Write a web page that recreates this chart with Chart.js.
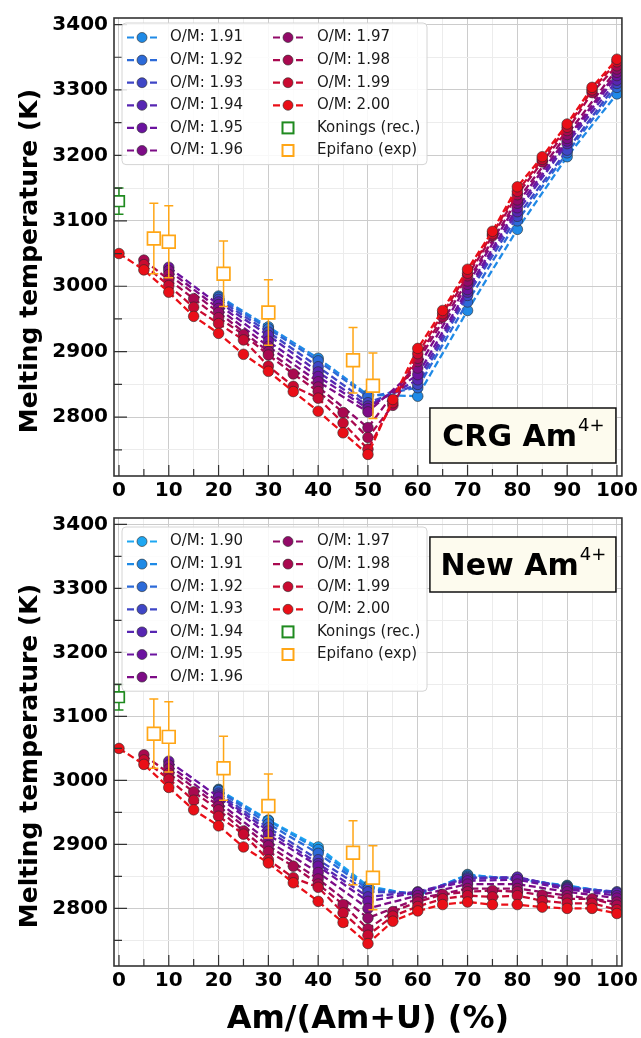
<!DOCTYPE html>
<html lang="en">
<head>
<meta charset="UTF-8">
<title>Melting temperature vs Am/(Am+U)</title>
<script src="https://cdn.jsdelivr.net/npm/chart.js@4.4.0/dist/chart.umd.min.js"></script>
<style>
    html, body { margin: 0; padding: 0; background: #fff; }
    #wrap { position: relative; width: 641px; height: 1038px; }
    .panel { position: absolute; left: 0; width: 641px; }
    #top { top: 0; height: 500px; }
    #bottom { top: 500px; height: 538px; }
</style>
</head>
<body>
<div id="wrap">
    <div class="panel" id="top"><canvas id="crgChart"></canvas></div>
    <div class="panel" id="bottom"><canvas id="newChart"></canvas></div>
</div>
<script>
// Am/(Am+U) in %, one slot every 5 % (null = no point there)
const _ = null;
const amPct = [0, 5, 10, 15, 20, 25, 30, 35, 40, 45, 50, 55, 60, 65, 70, 75, 80, 85, 90, 95, 100];
const xLabels = [0, 10, 20, 30, 40, 50, 60, 70, 80, 90, 100];
const yTickVals = [2750, 2800, 2850, 2900, 2950, 3000, 3050, 3100, 3150, 3200, 3250, 3300, 3350, 3400];
const yLabels = [2800, 2900, 3000, 3100, 3200, 3300, 3400];

// top panel: CRG Am4+
const omTop = ['1.91', '1.92', '1.93', '1.94', '1.95', '1.96', '1.97', '1.98', '1.99', '2.00'];
const crg191 = [_, _, _, _, 2985, _, 2938, _, 2890, _, 2834, _, 2832, _, 2963, _, 3087, _, 3198, _, 3294];
const crg192 = [_, _, _, _, 2983, _, 2935, _, 2886, _, 2831, _, 2845, _, 2976, _, 3100, _, 3204, _, 3304];
const crg193 = [_, _, _, _, 2980, _, 2930, _, 2877, _, 2822, _, 2850, _, 2986, _, 3107, _, 3208, _, 3310];
const crg194 = [_, _, _, _, 2976, _, 2925, _, 2869, _, 2817, _, 2857, _, 2991, _, 3114, _, 3218, _, 3315];
const crg195 = [_, _, 3029, _, 2972, _, 2916, _, 2862, _, 2813, _, 2865, _, 2995, _, 3120, _, 3222, _, 3322];
const crg196 = [_, _, 3024, _, 2966, _, 2908, _, 2854, _, 2808, _, 2875, _, 3003, _, 3127, _, 3226, _, 3327];
const crg197 = [_, _, 3018, _, 2960, _, 2900, _, 2846, _, 2784, _, 2885, _, 3008, _, 3132, _, 3232, _, 3332];
const crg198 = [_, 3040, 3010, 2981, 2952, 2926, 2895, 2866, 2839, 2807, 2769, 2818, 2890, 2953, 3016, 3077, 3140, 3190, 3238, 3296, 3337];
const crg199 = [_, 3033, 3001, 2968, 2943, 2918, 2878, 2847, 2829, 2791, 2751, 2822, 2897, 2958, 3020, 3080, 3145, 3194, 3243, 3300, 3343];
const crg200 = [3050, 3025, 2991, 2954, 2928, 2896, 2870, 2839, 2809, 2776, 2743, 2827, 2905, 2963, 3026, 3084, 3152, 3198, 3248, 3304, 3347];

// bottom panel: New Am4+
const omBottom = ['1.90', '1.91', '1.92', '1.93', '1.94', '1.95', '1.96', '1.97', '1.98', '1.99', '2.00'];
const new190 = [_, _, _, _, 2986, _, 2938, _, 2896, _, 2835, _, 2820, _, 2853, _, 2845, _, 2836, _, 2823];
const new191 = [_, _, _, _, 2985, _, 2937, _, 2892, _, 2833, _, 2821, _, 2852, _, 2846, _, 2835, _, 2824];
const new192 = [_, _, _, _, 2984, _, 2932, _, 2886, _, 2830, _, 2822, _, 2850, _, 2847, _, 2834, _, 2825];
const new193 = [_, _, _, _, 2980, _, 2926, _, 2876, _, 2826, _, 2824, _, 2848, _, 2848, _, 2833, _, 2826];
const new194 = [_, _, _, _, 2977, _, 2921, _, 2870, _, 2818, _, 2826, _, 2846, _, 2849, _, 2832, _, 2824];
const new195 = [_, _, 3030, _, 2974, _, 2915, _, 2866, _, 2811, _, 2825, _, 2843, _, 2845, _, 2830, _, 2820];
const new196 = [_, _, 3024, _, 2966, _, 2905, _, 2856, _, 2800, _, 2820, _, 2838, _, 2838, _, 2826, _, 2816];
const new197 = [_, _, 3018, _, 2960, _, 2898, _, 2846, _, 2785, _, 2815, _, 2831, _, 2831, _, 2820, _, 2810];
const new198 = [_, 3040, 3011, 2982, 2954, 2921, 2889, 2866, 2838, 2806, 2768, 2795, 2810, 2822, 2826, 2828, 2826, 2821, 2815, 2815, 2805];
const new199 = [_, 3032, 3002, 2969, 2944, 2916, 2876, 2848, 2833, 2793, 2758, 2788, 2803, 2815, 2820, 2818, 2820, 2812, 2808, 2808, 2798];
const new200 = [3050, 3025, 2989, 2954, 2929, 2896, 2871, 2840, 2811, 2778, 2745, 2780, 2796, 2806, 2810, 2806, 2806, 2802, 2800, 2800, 2792];

// reference points
const konX = [0];
const konT = [3130];
const konErr = [20];
const epiX = [7, 10, 21, 30, 47, 51];
const epiT = [3073, 3068, 3019, 2960, 2887, 2848];
const epiErr = [54, 55, 50, 50, 50, 50];

// styling
const omColors = {
    '1.90': '#1ea7f2', '1.91': '#1f8ae6', '1.92': '#2c6ad8', '1.93': '#3f46c6',
    '1.94': '#5726b2', '1.95': '#6b139f', '1.96': '#7d0c86', '1.97': '#920a68',
    '1.98': '#a9094f', '1.99': '#c90a30', '2.00': '#ea0f17'
};
const FONT = "'DejaVu Sans', sans-serif";
Chart.defaults.font.family = FONT;
Chart.defaults.color = '#000';

function omSet(om, values) {
    const c = omColors[om];
    return {
        label: 'O/M: ' + om,
        data: amPct.map((x, i) => ({ x: x, y: values[i] })).filter(p => p.y !== null),
        borderColor: c,
        backgroundColor: c,
        borderWidth: 2.3,
        borderDash: [7, 3.5],
        pointRadius: 5.3,
        pointBorderColor: '#2a2a2a',
        pointBorderWidth: 0.6,
        fill: false,
        tension: 0
    };
}

function refSet(label, xs, ts, errs, color, r) {
    return {
        label: label,
        data: xs.map((x, i) => ({ x: x, y: ts[i] })),
        errors: errs,
        showLine: false,
        pointStyle: 'rect',
        pointRadius: r,
        borderColor: color,
        backgroundColor: '#fff',
        pointBorderWidth: 1.7
    };
}

// error bars, frame, inward ticks, legend box, label box, y title
const panelDecor = {
    id: 'panelDecor',
    beforeDatasetDraw(chart, args) {
        const ds = chart.data.datasets[args.index];
        if (!ds.errors) return;
        const { ctx, scales: { x, y } } = chart;
        ctx.save();
        ctx.strokeStyle = ds.borderColor;
        ctx.lineWidth = 1.5;
        ds.data.forEach((p, i) => {
            const px = x.getPixelForValue(p.x);
            const top = y.getPixelForValue(p.y + ds.errors[i]);
            const bot = y.getPixelForValue(p.y - ds.errors[i]);
            ctx.beginPath();
            ctx.moveTo(px, top); ctx.lineTo(px, bot);
            ctx.moveTo(px - 4.5, top); ctx.lineTo(px + 4.5, top);
            ctx.moveTo(px - 4.5, bot); ctx.lineTo(px + 4.5, bot);
            ctx.stroke();
        });
        ctx.restore();
    },
    afterDatasetsDraw(chart) {
        const { ctx, chartArea: a, scales: { x, y } } = chart;
        ctx.save();
        ctx.strokeStyle = '#333';
        ctx.lineWidth = 1.2;
        ctx.beginPath();
        x.ticks.forEach(t => {
            const px = x.getPixelForValue(t.value);
            const len = xLabels.includes(t.value) ? 11 : 7;
            ctx.moveTo(px, a.bottom); ctx.lineTo(px, a.bottom - len);
        });
        y.ticks.forEach(t => {
            const py = y.getPixelForValue(t.value);
            const len = yLabels.includes(t.value) ? 13 : 8;
            ctx.moveTo(a.left, py); ctx.lineTo(a.left + len, py);
        });
        ctx.stroke();
        ctx.lineWidth = 1.6;
        ctx.strokeRect(a.left, a.top, a.right - a.left, a.bottom - a.top);
        ctx.restore();
    },
    afterDraw(chart, args, opts) {
        const { ctx, chartArea: a } = chart;
        const sets = chart.data.datasets;

        // legend, two columns filled top to bottom
        const rows = Math.ceil(sets.length / 2);
        const rowH = 22.6;
        const bx = a.left + 8, by = a.top + opts.legendGap;
        ctx.save();
        ctx.beginPath();
        ctx.roundRect(bx, by, 305, rows * rowH + 6, 4);
        ctx.fillStyle = 'rgba(255,255,255,0.85)';
        ctx.fill();
        ctx.strokeStyle = '#d4d4d4';
        ctx.lineWidth = 1;
        ctx.stroke();
        ctx.font = '15px ' + FONT;
        ctx.textBaseline = 'middle';
        sets.forEach((ds, i) => {
            const col = Math.floor(i / rows), row = i % rows;
            const cy = by + 14.5 + row * rowH;
            const hx = a.left + (col ? 174 : 28);
            const tx = a.left + (col ? 203 : 56);
            ctx.setLineDash([]);
            if (ds.showLine === false) {
                ctx.strokeStyle = ds.borderColor;
                ctx.lineWidth = 2;
                ctx.fillStyle = '#fff';
                ctx.fillRect(hx - 5.5, cy - 5.5, 11, 11);
                ctx.strokeRect(hx - 5.5, cy - 5.5, 11, 11);
            } else {
                ctx.strokeStyle = ds.borderColor;
                ctx.lineWidth = 2.2;
                ctx.beginPath();
                ctx.moveTo(hx - 15, cy); ctx.lineTo(hx - 8, cy);
                ctx.moveTo(hx + 8, cy); ctx.lineTo(hx + 15, cy);
                ctx.stroke();
                ctx.beginPath();
                ctx.arc(hx, cy, 5, 0, Math.PI * 2);
                ctx.fillStyle = ds.backgroundColor;
                ctx.fill();
                ctx.strokeStyle = '#2a2a2a';
                ctx.lineWidth = 0.6;
                ctx.stroke();
            }
            ctx.fillStyle = '#1a1a1a';
            ctx.fillText(ds.label, tx, cy);
        });
        ctx.restore();

        // label box
        const w = 186, h = 55;
        const tx0 = a.right - 192;
        const ty0 = opts.tagAtTop ? a.top + 19 : a.bottom - 68;
        ctx.save();
        ctx.fillStyle = '#fdfbee';
        ctx.fillRect(tx0, ty0, w, h);
        ctx.strokeStyle = '#111';
        ctx.lineWidth = 1.5;
        ctx.strokeRect(tx0, ty0, w, h);
        ctx.font = 'bold 30px ' + FONT;
        const w1 = ctx.measureText(opts.tag).width;
        ctx.font = '18px ' + FONT;
        const w2 = ctx.measureText(opts.sup).width;
        const sx = tx0 + (w - w1 - w2) / 2;
        const base = ty0 + 38;
        ctx.fillStyle = '#000';
        ctx.textBaseline = 'alphabetic';
        ctx.font = 'bold 30px ' + FONT;
        ctx.fillText(opts.tag, sx, base);
        ctx.font = '18px ' + FONT;
        ctx.fillText(opts.sup, sx + w1 + 1, base - 15);
        ctx.restore();

        // y title
        ctx.save();
        ctx.translate(30, (a.top + a.bottom) / 2 + 14);
        ctx.rotate(-Math.PI / 2);
        ctx.font = 'bold 25px ' + FONT;
        ctx.textAlign = 'center';
        ctx.textBaseline = 'middle';
        ctx.fillStyle = '#000';
        ctx.fillText('Melting temperature (K)', 0, 0);
        ctx.restore();
    }
};

function makePanel(canvasId, oms, series, opt) {
    const datasets = oms.map((om, i) => omSet(om, series[i]));
    datasets.push(refSet('Konings (rec.)', konX, konT, konErr, '#1f8a1f', 7.5));
    datasets.push(refSet('Epifano (exp)', epiX, epiT, epiErr, '#ffa616', 9));
    datasets.forEach((d, i) => { d.order = -i; });

    return new Chart(document.getElementById(canvasId), {
        type: 'line',
        data: { datasets: datasets },
        plugins: [panelDecor],
        options: {
            responsive: true,
            maintainAspectRatio: false,
            animation: false,
            layout: { padding: { left: 0, right: 19, top: opt.padTop, bottom: 0 } },
            plugins: {
                legend: { display: false },
                tooltip: { enabled: false },
                panelDecor: { tag: opt.tag, sup: '4+', tagAtTop: opt.tagAtTop, legendGap: opt.legendGap }
            },
            scales: {
                x: {
                    type: 'linear',
                    min: -1,
                    max: 101,
                    afterBuildTicks: s => { s.ticks = amPct.map(v => ({ value: v })); },
                    ticks: {
                        autoSkip: false,
                        maxRotation: 0,
                        padding: 3,
                        font: { size: 20, weight: 'bold' },
                        callback: v => xLabels.includes(v) ? v : ''
                    },
                    grid: {
                        drawTicks: false,
                        color: c => (c.tick && xLabels.includes(c.tick.value)) ? '#cccccc' : '#ececec'
                    },
                    border: { display: false },
                    title: {
                        display: opt.xTitle,
                        text: 'Am/(Am+U) (%)',
                        font: { size: 32, weight: 'bold', lineHeight: 1 },
                        padding: { top: 0, bottom: 2 }
                    },
                    afterFit: s => { s.height = opt.xHeight; }
                },
                y: {
                    type: 'linear',
                    min: 2710,
                    max: 3410,
                    afterBuildTicks: s => { s.ticks = yTickVals.map(v => ({ value: v })); },
                    ticks: {
                        autoSkip: false,
                        padding: 6,
                        font: { size: 20, weight: 'bold' },
                        callback: v => yLabels.includes(v) ? v : ''
                    },
                    grid: {
                        drawTicks: false,
                        color: c => (c.tick && yLabels.includes(c.tick.value)) ? '#cccccc' : '#ececec'
                    },
                    border: { display: false },
                    afterFit: s => { s.width = 114; }
                }
            }
        }
    });
}

makePanel('crgChart', omTop,
    [crg191, crg192, crg193, crg194, crg195, crg196, crg197, crg198, crg199, crg200],
    { tag: 'CRG Am', tagAtTop: false, legendGap: 5, padTop: 13, xHeight: 24, xTitle: false });

makePanel('newChart', omBottom,
    [new190, new191, new192, new193, new194, new195, new196, new197, new198, new199, new200],
    { tag: 'New Am', tagAtTop: true, legendGap: 9, padTop: 3, xHeight: 72, xTitle: true });
</script>
</body>
</html>
